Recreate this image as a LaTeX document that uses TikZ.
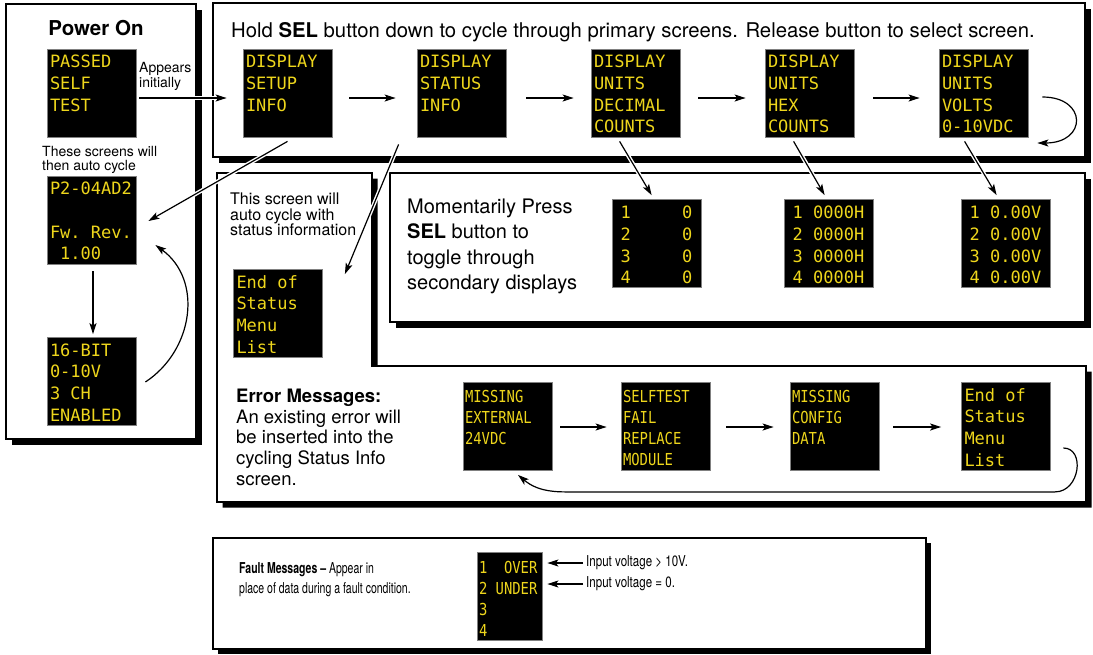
\documentclass[tikz,border=0pt]{standalone}
\usepackage{fontspec}
\setmainfont{TeX Gyre Heros}
\newfontfamily\condsans[FakeStretch=0.70]{TeX Gyre Heros}
\newfontfamily\condsansb[FakeStretch=0.77]{TeX Gyre Heros}
\newfontfamily\monofont{DejaVu Sans Mono}
\newfontfamily\condmono[FakeStretch=0.84]{DejaVu Sans Mono}
\usetikzlibrary{arrows.meta,calc}
\definecolor{scry}{RGB}{238,214,28}
\newcommand\chsp{\phantom{0}}
\begin{document}
\begin{tikzpicture}[x=1pt,y=-1pt,
  panel/.style={fill=white,draw=black,line width=1.2pt},
  shadowfill/.style={fill=black},
  screen/.style={fill=black,draw=black!50,line width=0.8pt,minimum width=89pt,minimum height=88pt,
    inner xsep=3pt,inner ysep=0pt,text width=83pt,align=left,text=scry,
    font=\monofont\fontsize{17}{21.7}\selectfont,text height=12.4pt,text depth=63pt},
  secscreen/.style={screen,align=center,text depth=62pt},
  errscreen/.style={screen,inner xsep=2pt,text width=85pt,
    font=\condmono\fontsize{16.5}{21}\selectfont,text height=12pt,text depth=60pt},
  faultscreen/.style={errscreen,minimum width=65pt,text width=61pt,text depth=58pt},
  txt/.style={inner sep=0pt,anchor=base west,align=left},
  arr/.style={line width=1.2pt,-{Stealth[length=11pt,width=7pt,inset=2.5pt]}},
  halo/.style={preaction={draw=white,line width=4pt,-}}
]
\useasboundingbox (0,0) rectangle (1093,654);

% ---------- panels ----------
\fill[shadowfill] (11.5,9.5) rectangle (201.5,444.5);
\draw[panel] (6,4) rectangle (196,439);

\fill[shadowfill] (218.5,8.5) rectangle (1090.5,162.5);
\draw[panel] (213,3) rectangle (1085,157);

\fill[shadowfill] (222.5,178.5) -- (377.5,178.5) -- (377.5,371.5) -- (1091.5,371.5) -- (1091.5,507.5) -- (222.5,507.5) -- cycle;
\draw[panel] (217,173) -- (372,173) -- (372,366) -- (1086,366) -- (1086,502) -- (217,502) -- cycle;

\fill[shadowfill] (395.5,178.5) rectangle (1090.5,327.5);
\draw[panel] (390,173) rectangle (1085,322);

\fill[shadowfill] (217.5,542.5) rectangle (930.5,653.5);
\draw[panel] (213,538) rectangle (926,649);

% ---------- texts (base = baseline of the last line) ----------
\node[inner sep=0pt,anchor=base,font=\bfseries\fontsize{20.5}{24}\selectfont] (pwr) at (96,35) {Power On};
\node[txt,font=\fontsize{20.3}{24}\selectfont] (hold) at (231,37)
  {Hold \textbf{SEL} button down to cycle through primary screens. Release button to select screen.};
\node[txt,font=\fontsize{14}{14.5}\selectfont] (appear) at (139,87) {Appears\\initially};
\node[txt,font=\fontsize{14}{14.5}\selectfont] (these) at (42,170.5) {These screens will\\then auto cycle};
\node[txt,font=\fontsize{16}{15.6}\selectfont] (thisscr) at (230,235.7) {This screen will\\auto cycle with\\status information};
\node[txt,font=\fontsize{20}{25.5}\selectfont] (moment) at (407,289.5)
  {Momentarily Press\\\textbf{SEL} button to\\toggle through\\secondary displays};
\node[txt,font=\fontsize{18.5}{20.7}\selectfont] (errtxt) at (236,485.3)
  {\textbf{Error Messages:}\\An existing error will\\be inserted into the\\cycling Status Info\\screen.};
\node[txt,font=\condsans\fontsize{15}{20}\selectfont] (faulttxt) at (239,593)
  {\textbf{Fault Messages –} Appear in\\place of data during a fault condition.};
\node[inner sep=0pt,anchor=west,font=\condsansb\fontsize{15}{18}\selectfont] (in1) at (586,563) {Input voltage > 10V.};
\node[inner sep=0pt,anchor=west,font=\condsansb\fontsize{15}{18}\selectfont] (in2) at (586,584) {Input voltage = 0.};

% ---------- screens ----------
\node[screen] (pst) at (91.5,93) {PASSED\\SELF\\TEST};
\node[screen] (p2) at (91.5,220) {P2-04AD2\\\chsp\\Fw.\chsp Rev.\\\chsp 1.00};
\node[screen] (bit) at (91.5,381.5) {16-BIT\\0-10V\\3\chsp CH\\ENABLED};
\node[screen] (endA) at (278,313.5) {End\chsp of\\Status\\Menu\\List};

\node[screen] (setup) at (287.5,93) {DISPLAY\\SETUP\\INFO};
\node[screen] (status) at (461.5,93) {DISPLAY\\STATUS\\INFO};
\node[screen] (dec) at (635.5,93) {DISPLAY\\UNITS\\DECIMAL\\COUNTS};
\node[screen] (hex) at (809.5,93) {DISPLAY\\UNITS\\HEX\\COUNTS};
\node[screen] (volts) at (983.5,93) {DISPLAY\\UNITS\\VOLTS\\0-10VDC};

\node[secscreen] (sec1) at (656.5,243.5) {1\chsp\chsp\chsp\chsp\chsp 0\\2\chsp\chsp\chsp\chsp\chsp 0\\3\chsp\chsp\chsp\chsp\chsp 0\\4\chsp\chsp\chsp\chsp\chsp 0};
\node[secscreen] (sec2) at (828.5,243.5) {1\chsp 0000H\\2\chsp 0000H\\3\chsp 0000H\\4\chsp 0000H};
\node[secscreen] (sec3) at (1005.5,243.5) {1\chsp 0.00V\\2\chsp 0.00V\\3\chsp 0.00V\\4\chsp 0.00V};

\node[errscreen] (err1) at (507.5,426.5) {MISSING\\EXTERNAL\\24VDC};
\node[errscreen] (err2) at (665.5,426.5) {SELFTEST\\FAIL\\REPLACE\\MODULE};
\node[errscreen] (err3) at (834.5,426.5) {MISSING\\CONFIG\\DATA};
\node[screen] (err4) at (1006,426.5) {End\chsp of\\Status\\Menu\\List};

\node[faultscreen] (fault) at (509.5,596.5) {1\chsp\chsp OVER\\2\chsp UNDER\\3\\4};

% ---------- connectors ----------
\draw[arr,halo] ($(pst.east)+(3,5)$) -- ($(setup.west)+(-16,5)$);
\draw[arr] ($(setup.east)+(17,5)$) -- ($(status.west)+(-21,5)$);
\draw[arr] ($(status.east)+(20,5)$) -- ($(dec.west)+(-17,5)$);
\draw[arr] ($(dec.east)+(18,5)$) -- ($(hex.west)+(-19,5)$);
\draw[arr] ($(hex.east)+(19,5)$) -- ($(volts.west)+(-19,5)$);

\coordinate (lpS) at ($(volts.east)+(14,4)$);
\coordinate (lpE) at ($(volts.east)+(9,50)$);
\draw[arr] (lpS) .. controls ($(lpS)+(45,0)$) and ($(lpE)+(50,0)$) .. (lpE);

\draw[arr,halo] ($(setup.south)+(0,4)$) -- ($(p2.east)+(12,1)$);
\draw[arr,halo] ($(status.south west)+(-18,7)$) -- ($(endA.north east)+(22,5)$);

\draw[arr,halo] ($(dec.south west)+(29,4)$) -- ($(sec1.north west)+(40,-4)$);
\draw[arr,halo] ($(hex.south west)+(29,4)$) -- ($(sec2.north west)+(41,-4)$);
\draw[arr,halo] ($(volts.south west)+(26,4)$) -- ($(sec3.north west)+(36,-4)$);

\draw[arr] ($(p2.south)+(1.5,7)$) -- ($(bit.north)+(1.5,-3)$);
\draw[arr] ($(bit.east)+(9,0.5)$) .. controls ($(bit.east)+(57,-31)$) and ($(p2.east)+(67,60)$) .. ($(p2.east)+(19,25)$);

\draw[arr] ($(err1.east)+(8,0.5)$) -- ($(err2.west)+(-14,0.5)$);
\draw[arr] ($(err2.east)+(16,0.5)$) -- ($(err3.west)+(-16,0.5)$);
\draw[arr] ($(err3.east)+(14,0.5)$) -- ($(err4.west)+(-20,0.5)$);

\coordinate (eS) at ($(err4.east)+(12.5,21.5)$);
\coordinate (eB) at ($(err4.south)+(49,21)$);
\coordinate (eC) at ($(err1.south)+(57.5,21)$);
\coordinate (eE) at ($(err1.south)+(10.5,4)$);
\draw[arr] (eS) .. controls ($(eS)+(22,0)$) and ($(eB)+(25,0)$) .. (eB) -- (eC)
  .. controls ($(eC)+(-25,0)$) and ($(eE)+(12,10)$) .. (eE);

\draw[arr] ($(in1.west)+(-3,0)$) -- ($(fault.east|-in1.west)+(5,0)$);
\draw[arr] ($(in2.west)+(-3,0)$) -- ($(fault.east|-in2.west)+(5,0)$);
\end{tikzpicture}
\end{document}
